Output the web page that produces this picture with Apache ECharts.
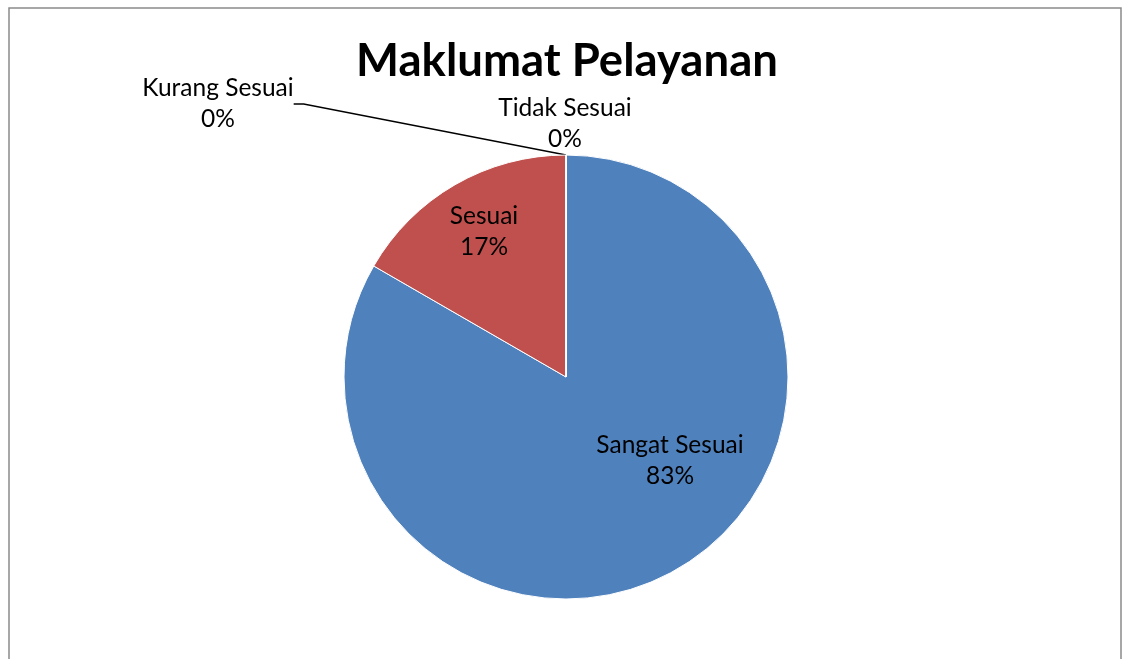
<!DOCTYPE html>
<html>
<head>
<meta charset="utf-8">
<script src="https://cdn.jsdelivr.net/npm/echarts@6/dist/echarts.min.js"></script>
<style>
  html, body { margin: 0; padding: 0; background: #fff; }
  #chart { width: 1122px; height: 659px; }
</style>
</head>
<body>
<div id="chart"></div>
<script>
// responses per category
const categories = ["Sangat Sesuai", "Sesuai", "Kurang Sesuai", "Tidak Sesuai"];
const counts = [5, 1, 0, 0];
const colors = ["#4F81BD", "#C0504D", "#9BBB59", "#8064A2"];

// where each label sits (Excel-style placement)
const labelSpots = [
  { x: 670, y: 461, align: "center" },
  { x: 484, y: 232, align: "center" },
  { x: 218, y: 104, align: "center" },
  { x: 565, y: 124, align: "center" }
];

const myChart = echarts.init(document.getElementById("chart"));

const option = {
  animation: false,
  title: {
    text: "Maklumat Pelayanan",
    left: 562,
    top: 33,
    textAlign: "center",
    textStyle: { fontFamily: "Lato", fontWeight: "bold", fontSize: 45.5, color: "#000" }
  },
  graphic: [{
    type: "rect",
    shape: { x: 9, y: 8, width: 1112, height: 700 },
    style: { fill: null, stroke: "#8a8a8a", lineWidth: 1.5 },
    silent: true
  }],
  series: [{
    type: "pie",
    center: [566, 377],
    radius: 222,
    startAngle: 90,
    clockwise: true,
    avoidLabelOverlap: false,
    percentPrecision: 0,
    itemStyle: { borderColor: "#fff", borderWidth: 1 },
    label: {
      show: true,
      formatter: "{b}\n{d}%",
      fontFamily: "Lato",
      fontSize: 24.5,
      lineHeight: 31,
      color: "#000",
      align: "center"
    },
    labelLine: { show: false },
    labelLayout: function (params) {
      const s = labelSpots[params.dataIndex];
      return { x: s.x, y: s.y, align: s.align, verticalAlign: "middle" };
    },
    data: categories.map(function (name, i) {
      const item = { name: name, value: counts[i], itemStyle: { color: colors[i] } };
      if (i === 2) {
        item.label = { position: "outside" };
        item.labelLine = { show: true, lineStyle: { color: "#000", width: 1.3 }, length: 10, length2: 10 };
      } else if (i === 3) {
        item.label = { position: "outside" };
      } else {
        item.label = { position: "inside" };
      }
      return item;
    })
  }]
};

myChart.setOption(option);
</script>
</body>
</html>
